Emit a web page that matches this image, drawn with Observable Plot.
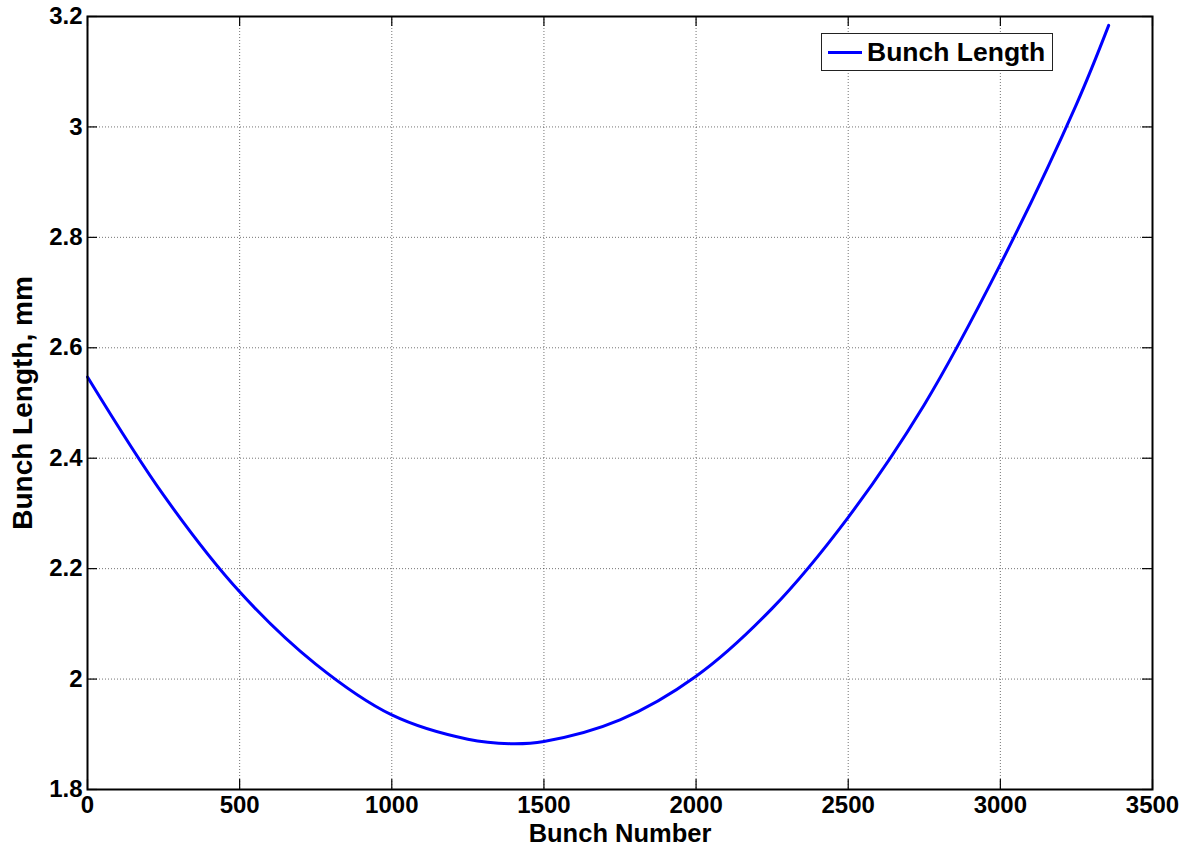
<!DOCTYPE html>
<html>
<head>
<meta charset="utf-8">
<script src="https://cdn.jsdelivr.net/npm/d3@7"></script>
<script src="https://cdn.jsdelivr.net/npm/@observablehq/plot@0.6"></script>
<style>
  html, body { margin: 0; padding: 0; background: #fff; }
  #chart { position: relative; width: 1184px; height: 850px; font-family: "Liberation Sans", Arial, sans-serif; }
  #legend {
    position: absolute; left: 821px; top: 33px; width: 232px; height: 38px;
    border: 1.5px solid #222; background: #fff; display: flex; align-items: center;
    font-weight: bold; font-size: 26.5px; color: #000; box-sizing: border-box;
  }
  #legend .swatch { width: 34px; height: 3px; background: #0000ff; margin: 0 5px 0 6px; }
</style>
</head>
<body>
<div id="chart">
  <div id="legend"><span class="swatch"></span><span>Bunch Length</span></div>
</div>
<script>
// Bunch length along the train
const bunchNumber = [0, 250, 500, 750, 1000, 1250, 1390, 1500, 1750, 2000, 2250, 2500, 2750, 3000, 3250, 3356];
const bunchLength = [2.547, 2.333, 2.158, 2.027, 1.935, 1.891, 1.883, 1.887, 1.926, 2.005, 2.128, 2.293, 2.497, 2.751, 3.041, 3.184];

const xTicks = [0, 500, 1000, 1500, 2000, 2500, 3000, 3500];
const yTicks = [1.8, 2.0, 2.2, 2.4, 2.6, 2.8, 3.0, 3.2];

const data = bunchNumber.map((x, i) => ({x, y: bunchLength[i]}));

const W = 1184, H = 850;
const M = {left: 87, right: 32, top: 16, bottom: 61};
const innerH = H - M.top - M.bottom;
const innerW = W - M.left - M.right;
const tickLen = 10;
const family = "Liberation Sans, Arial, sans-serif";

const fmtY = d => String(+d.toFixed(1));
const fmtX = d => String(d);

const chart = Plot.plot({
  width: W,
  height: H,
  marginLeft: M.left,
  marginRight: M.right,
  marginTop: M.top,
  marginBottom: M.bottom,
  style: {background: "#fff", color: "#000", fontFamily: family},
  x: {domain: [0, 3500], ticks: xTicks},
  y: {domain: [1.8, 3.2], ticks: yTicks},
  marks: [
    // dotted grid
    Plot.gridX(xTicks, {stroke: "#000", strokeOpacity: 0.55, strokeDasharray: "1,2", strokeWidth: 1}),
    Plot.gridY(yTicks, {stroke: "#000", strokeOpacity: 0.55, strokeDasharray: "1,2", strokeWidth: 1}),
    // inward ticks on all four sides
    Plot.tickX(xTicks, {x: d => d, insetTop: innerH - tickLen, stroke: "#000", strokeWidth: 1.2}),
    Plot.tickX(xTicks, {x: d => d, insetBottom: innerH - tickLen, stroke: "#000", strokeWidth: 1.2}),
    Plot.tickY(yTicks, {y: d => d, insetRight: innerW - tickLen, stroke: "#000", strokeWidth: 1.2}),
    Plot.tickY(yTicks, {y: d => d, insetLeft: innerW - tickLen, stroke: "#000", strokeWidth: 1.2}),
    // tick labels
    Plot.axisX(xTicks, {anchor: "bottom", tickSize: 0, tickPadding: 6, fontSize: 24, fontWeight: "bold", label: null, tickFormat: fmtX}),
    Plot.axisY(yTicks, {anchor: "left", tickSize: 0, tickPadding: 5, fontSize: 24, fontWeight: "bold", label: null, tickFormat: fmtY}),
    // axis titles
    Plot.text(["Bunch Number"], {frameAnchor: "bottom", dy: 44, fontSize: 25.5, fontWeight: "bold", textAnchor: "middle", lineAnchor: "middle", fill: "#000"}),
    Plot.text(["Bunch Length, mm"], {frameAnchor: "left", dx: -64, rotate: -90, fontSize: 28, fontWeight: "bold", textAnchor: "middle", lineAnchor: "middle", fill: "#000"}),
    // the curve
    Plot.line(data, {x: "x", y: "y", stroke: "#0000ff", strokeWidth: 3, curve: "catmull-rom"}),
    Plot.frame({stroke: "#000", strokeWidth: 2})
  ]
});

document.getElementById("chart").prepend(chart);
</script>
</body>
</html>
